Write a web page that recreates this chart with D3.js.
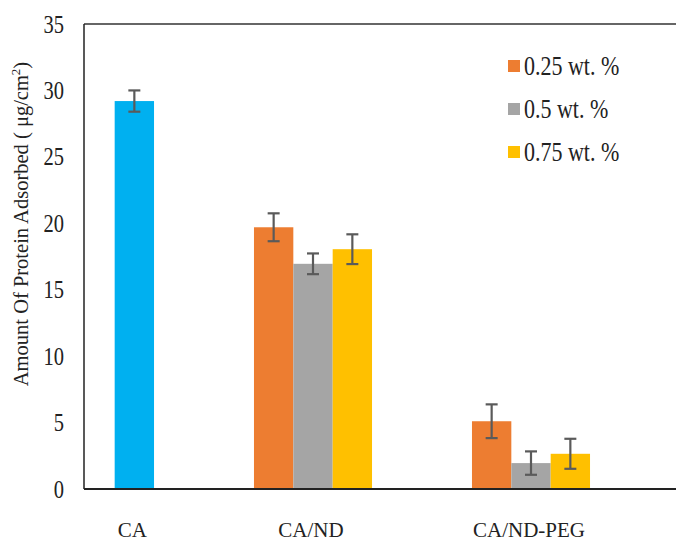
<!DOCTYPE html>
<html>
<head>
<meta charset="utf-8">
<script src="https://cdn.jsdelivr.net/npm/d3@7"></script>
<style>
  html, body { margin: 0; padding: 0; background: #fff; }
  svg { display: block; }
</style>
</head>
<body>
<svg id="chart" width="676" height="541"></svg>
<script>
// ---- data ----
const categories = ["CA", "CA/ND", "CA/ND-PEG"];
const seriesNames = ["0.25 wt. %", "0.5 wt. %", "0.75 wt. %"];
const seriesColors = ["#ED7D31", "#A5A5A5", "#FFC000"];
const caColor = "#00B0F0";
// CA (pure) bar
const caValue = 29.2;
const caError = 0.8;
// grouped series values for CA/ND and CA/ND-PEG
const values025 = [null, 19.7, 5.1];
const values05  = [null, 16.95, 1.95];
const values075 = [null, 18.05, 2.65];
const errors025 = [null, 1.05, 1.27];
const errors05  = [null, 0.78, 0.88];
const errors075 = [null, 1.12, 1.13];
const yTicks = [0, 5, 10, 15, 20, 25, 30, 35];
const yTitle = "Amount Of Protein Adsorbed ( μg/cm";

const FONT = "'Liberation Serif', 'Times New Roman', Times, 'DejaVu Serif', serif";

// ---- layout ----
const svg = d3.select("#chart");
const plotLeft = 84, plotTop = 24, plotBottom = 489, plotRight = 676;

const y = d3.scaleLinear().domain([0, 35]).range([plotBottom, plotTop]);
const x = d3.scaleBand().domain(categories).range([-14, 640]).padding(0);
const xs = d3.scaleBand().domain(d3.range(3)).range([0, x.bandwidth()])
  .paddingInner(0).paddingOuter(1.27);

const bars = [];
const seriesVals = [values025, values05, values075];
const seriesErrs = [errors025, errors05, errors075];
bars.push({cat: "CA", slot: 2, v: caValue, e: caError, color: caColor});
seriesVals.forEach((arr, si) => arr.forEach((v, ci) => {
  if (v != null) bars.push({cat: categories[ci], slot: si, v: v, e: seriesErrs[si][ci], color: seriesColors[si]});
}));

// frame lines
svg.append("line").attr("x1", plotLeft).attr("x2", plotRight).attr("y1", plotTop).attr("y2", plotTop)
  .attr("stroke", "#333").attr("stroke-width", 1.5);
svg.append("line").attr("x1", plotLeft).attr("x2", plotLeft).attr("y1", plotTop).attr("y2", plotBottom)
  .attr("stroke", "#222").attr("stroke-width", 1.5);

// bars
svg.append("g").selectAll("rect").data(bars).join("rect")
  .attr("x", d => x(d.cat) + xs(d.slot))
  .attr("width", xs.bandwidth())
  .attr("y", d => y(d.v))
  .attr("height", d => y(0) - y(d.v))
  .attr("fill", d => d.color);

// error bars
const eg = svg.append("g").attr("stroke", "#5a5a5a").attr("stroke-width", 2.2);
bars.forEach(d => {
  const cx = x(d.cat) + xs(d.slot) + xs.bandwidth() / 2;
  eg.append("line").attr("x1", cx).attr("x2", cx).attr("y1", y(d.v + d.e)).attr("y2", y(d.v - d.e));
  [d.v + d.e, d.v - d.e].forEach(t => {
    eg.append("line").attr("x1", cx - 6).attr("x2", cx + 6).attr("y1", y(t)).attr("y2", y(t));
  });
});

// bottom axis line
svg.append("line").attr("x1", plotLeft).attr("x2", plotRight).attr("y1", plotBottom).attr("y2", plotBottom)
  .attr("stroke", "#222").attr("stroke-width", 2);

// y tick labels (slightly stretched vertically like the source image)
svg.append("g").selectAll("text").data(yTicks).join("text")
  .attr("font-family", FONT).attr("fill", "#222")
  .attr("transform", d => `translate(64,${y(d)}) scale(1,1.2)`)
  .attr("dy", "0.35em")
  .attr("text-anchor", "end").attr("font-size", 20.5).text(d => d);

// x category labels centred on their bars
categories.forEach(c => {
  const bs = bars.filter(b => b.cat === c);
  const l = d3.min(bs, b => x(b.cat) + xs(b.slot));
  const r = d3.max(bs, b => x(b.cat) + xs(b.slot) + xs.bandwidth());
  svg.append("text").attr("font-family", FONT).attr("fill", "#222")
    .attr("x", (l + r) / 2 - 2).attr("y", 537)
    .attr("text-anchor", "middle").attr("font-size", 21).text(c);
});

// y axis title
const yt = svg.append("text").attr("transform", "translate(28,224) rotate(-90)")
  .attr("font-family", FONT).attr("fill", "#222")
  .attr("text-anchor", "middle").attr("font-size", 20.5);
yt.append("tspan").text(yTitle);
yt.append("tspan").attr("font-size", 13).attr("dy", -8).text("2");
yt.append("tspan").attr("dy", 8).text(")");

// legend
const lg = svg.append("g");
seriesNames.forEach((n, i) => {
  const cy = 66 + i * 43;
  lg.append("rect").attr("x", 508).attr("y", cy - 6).attr("width", 12).attr("height", 12).attr("fill", seriesColors[i]);
  lg.append("text").attr("font-family", FONT).attr("fill", "#222")
    .attr("transform", `translate(524,${cy}) scale(1,1.22)`)
    .attr("dy", "0.35em").attr("font-size", 22).text(n);
});
</script>
</body>
</html>
